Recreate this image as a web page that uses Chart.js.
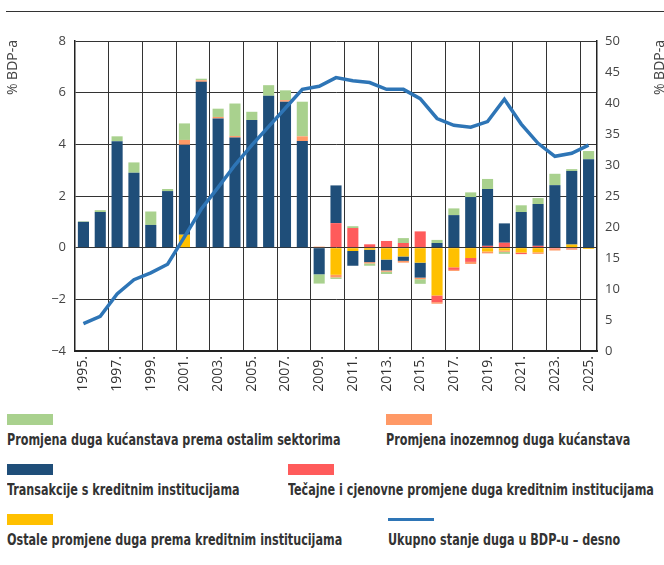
<!DOCTYPE html>
<html>
<head>
<meta charset="utf-8">
<script src="https://cdn.jsdelivr.net/npm/chart.js@4"></script>
<style>
  body { margin: 0; background: #fff; }
  #wrap { position: relative; width: 664px; height: 565px; overflow: hidden; }
  #rule { position: absolute; left: 6px; right: 0; top: 11px; border-top: 1.5px solid #333; }
  #chartBox { position: absolute; left: 0; top: 0; width: 664px; height: 405px; }
  .leg { position: absolute; font-family: "DejaVu Sans Condensed", "Liberation Sans Narrow", sans-serif;
         font-weight: bold; font-size: 15px; color: #333; white-space: nowrap;
         transform: scaleX(0.83); transform-origin: left center; }
  .sw { position: absolute; width: 46px; height: 11px; }
</style>
</head>
<body>
<div id="wrap">
  <div id="rule"></div>
  <div id="chartBox"><canvas id="debtChart"></canvas></div>
  <div id="legend"></div>
</div>
<script>
// years 1995.-2025.
const years = [];
for (let y = 1995; y <= 2025; y++) years.push(y + '.');

// % BDP-a, left axis
const ostalePromjene = [0, 0, 0, 0, 0, 0, 0.5, 0, 0, 0, 0, 0, 0, 0, 0,
  -1.05, -0.13, -0.08, -0.46, -0.34, -0.58, -1.85, -0.76, -0.4, -0.15, -0.11, -0.19, -0.18, 0, 0.12, -0.05];
const tecajnePromjene = [0, 0, 0, 0, 0, 0, 0, 0, 0, 0, 0, 0, 0, 0, 0,
  0.95, 0.76, 0.13, 0.26, 0.18, 0.63, -0.26, -0.1, -0.15, 0.07, 0.19, -0.06, 0.07, -0.04, -0.04, 0];
const transakcije = [1.0, 1.38, 4.12, 2.9, 0.88, 2.19, 3.48, 6.42, 5.0, 4.26, 4.94, 5.88, 5.65, 4.13, -1.03,
  1.46, -0.57, -0.48, -0.42, -0.17, -0.58, 0.18, 1.26, 1.96, 2.2, 0.75, 1.38, 1.62, 2.42, 2.85, 3.42];
const inozemniDug = [0, 0, 0, 0, 0, 0, 0.19, 0.06, 0.06, 0.06, 0, 0, 0.06, 0.18, 0.04,
  -0.1, 0, -0.05, -0.05, -0.07, -0.06, -0.06, -0.04, -0.08, -0.07, -0.05, 0, -0.06, -0.07, -0.04, 0];
const ostaliSektori = [0.02, 0.07, 0.19, 0.4, 0.52, 0.08, 0.64, 0.06, 0.32, 1.26, 0.32, 0.41, 0.38, 1.34, -0.36,
  -0.06, 0.07, -0.09, -0.09, 0.19, -0.18, 0.12, 0.26, 0.18, 0.39, -0.08, 0.26, 0.23, 0.44, 0.07, 0.32];

// ukupni dug u % BDP-a, right axis
const ukupniDug = [4.4, 5.6, 9.2, 11.5, 12.6, 14.0, 18.4, 22.9, 26.4, 30.0, 33.2, 36.2, 39.2, 42.2, 42.7,
  44.1, 43.6, 43.3, 42.2, 42.2, 40.7, 37.5, 36.4, 36.1, 37.0, 40.6, 36.6, 33.5, 31.4, 31.9, 33.2];

const leftTicks = [-4, -2, 0, 2, 4, 6, 8];
const rightTicks = [0, 5, 10, 15, 20, 25, 30, 35, 40, 45, 50];

const C = {
  green: '#a9d18e', orange: '#ff9966', blue: '#1f4e79',
  red: '#ff5b5b', yellow: '#ffc000', line: '#2e75b6'
};

const tickFont = { family: '"Open Sans", sans-serif', size: 13 };

function bar(label, data, color) {
  return { type: 'bar', label, data, backgroundColor: color, yAxisID: 'y', order: 1,
           barPercentage: 0.66, categoryPercentage: 1 };
}

// stacking goes in array order, so yellow/red sit closest to zero
const datasets = [
  bar('Ostale promjene duga prema kreditnim institucijama', ostalePromjene, C.yellow),
  bar('Tečajne i cjenovne promjene duga kreditnim institucijama', tecajnePromjene, C.red),
  bar('Transakcije s kreditnim institucijama', transakcije, C.blue),
  bar('Promjena inozemnog duga kućanstava', inozemniDug, C.orange),
  bar('Promjena duga kućanstava prema ostalim sektorima', ostaliSektori, C.green),
  { type: 'line', label: 'Ukupno stanje duga u BDP-u – desno', data: ukupniDug, yAxisID: 'y1', order: 0,
    borderColor: C.line, borderWidth: 3.5, pointRadius: 0, tension: 0, fill: false }
];

// "% BDP-a" titles, rotated, top-aligned on both sides
const axisTitles = {
  id: 'axisTitles',
  afterDraw(chart) {
    const ctx = chart.ctx;
    const top = chart.chartArea.top - 1;
    ctx.save();
    ctx.font = '14px "Open Sans", sans-serif';
    ctx.fillStyle = '#444';
    ctx.textAlign = 'right';
    ctx.textBaseline = 'middle';
    [13, 660].forEach(x => {
      ctx.save();
      ctx.translate(x, top);
      ctx.rotate(-Math.PI / 2);
      ctx.fillText('% BDP-a', 0, 0);
      ctx.restore();
    });
    ctx.restore();
  }
};

new Chart(document.getElementById('debtChart'), {
  data: { labels: years, datasets },
  plugins: [axisTitles],
  options: {
    responsive: true,
    maintainAspectRatio: false,
    animation: false,
    devicePixelRatio: 1,
    layout: { padding: { top: 41, left: 0, right: 0, bottom: 0 } },
    plugins: { legend: { display: false }, tooltip: { enabled: false } },
    scales: {
      x: {
        stacked: true,
        afterFit: s => { s.height = 54; },
        border: { color: '#222', width: 2 },
        grid: {
          offset: true,
          drawTicks: false,
          color: c => (c.index > 0 && c.index % 2 === 0 && c.index < years.length) ? '#333' : 'rgba(0,0,0,0)'
        },
        ticks: {
          autoSkip: false, maxRotation: 90, minRotation: 90, padding: 5,
          color: '#333', font: { family: '"Open Sans", sans-serif', size: 14 },
          callback: (v, i) => (i % 2 === 0 ? years[i] : '')
        }
      },
      y: {
        stacked: true,
        position: 'left',
        min: -4, max: 8,
        afterFit: s => { s.width = 75; },
        afterBuildTicks: s => { s.ticks = leftTicks.map(v => ({ value: v })); },
        border: { color: '#222', width: 1.5 },
        grid: { color: '#333', drawTicks: false },
        ticks: { color: '#444', font: tickFont, padding: 9,
                 callback: v => (v < 0 ? '\u2212' + Math.abs(v) : v) }
      },
      y1: {
        position: 'right',
        min: 0, max: 50,
        afterFit: s => { s.width = 67; },
        afterBuildTicks: s => { s.ticks = rightTicks.map(v => ({ value: v })); },
        border: { color: '#222', width: 1.5 },
        grid: { drawOnChartArea: false, drawTicks: false },
        ticks: { color: '#444', font: tickFont, padding: 8 }
      }
    }
  }
});

// legend below the chart: swatch above its label
const legendItems = [
  { label: datasets[4].label, color: C.green, x: 7, y: 414 },
  { label: datasets[3].label, color: C.orange, x: 386, y: 414 },
  { label: datasets[2].label, color: C.blue, x: 7, y: 464 },
  { label: datasets[1].label, color: C.red, x: 288, y: 464 },
  { label: datasets[0].label, color: C.yellow, x: 7, y: 514 },
  { label: datasets[5].label, color: C.line, x: 388, y: 514, line: true }
];
const legend = document.getElementById('legend');
legendItems.forEach(it => {
  const sw = document.createElement('div');
  sw.className = 'sw';
  sw.style.left = it.x + 'px';
  if (it.line) {
    sw.style.top = (it.y + 4) + 'px';
    sw.style.height = '3px';
  } else {
    sw.style.top = it.y + 'px';
  }
  sw.style.background = it.color;
  legend.appendChild(sw);
  const t = document.createElement('div');
  t.className = 'leg';
  t.style.left = it.x + 'px';
  t.style.top = (it.y + 17) + 'px';
  t.textContent = it.label;
  legend.appendChild(t);
});
</script>
</body>
</html>
